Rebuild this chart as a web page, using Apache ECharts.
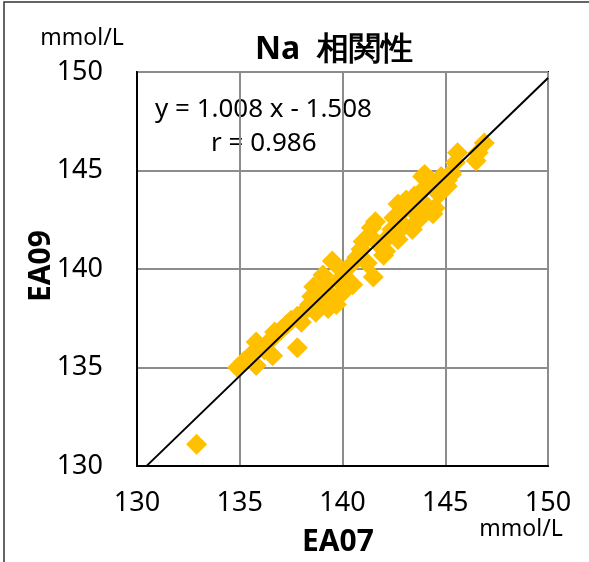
<!DOCTYPE html>
<html><head><meta charset="utf-8">
<script src="https://cdn.jsdelivr.net/npm/echarts@6/dist/echarts.min.js"></script>
<style>html,body{margin:0;padding:0;background:#fff}#c{width:589px;height:562px}</style>
</head><body><div id="c"></div>
<script>
const xTicks = [130, 135, 140, 145, 150];
const yTicks = [130, 135, 140, 145, 150];
const ea07 = [132.9,134.9,135.2,135.5,135.8,135.8,136.0,136.2,136.5,136.6,136.7,137.0,137.3,137.5,137.8,137.8,138.0,138.2,138.4,138.5,138.6,138.7,138.9,139.0,139.05,139.2,139.3,139.5,139.5,139.7,139.8,140.0,140.0,140.2,140.4,140.5,140.7,140.9,141.0,141.2,141.3,141.5,141.4,141.6,141.8,142.0,142.1,142.2,142.4,142.5,142.7,142.7,142.9,143.0,143.1,143.3,143.4,143.5,143.6,143.7,143.8,143.9,144.0,144.0,144.1,144.2,144.3,144.4,144.5,144.6,144.7,144.8,145.0,145.1,145.1,145.3,145.3,145.5,145.6,146.5,146.6,146.9];
const ea09 = [131.1,135.0,135.3,135.6,135.1,136.3,136.0,135.9,136.4,135.6,136.8,136.9,137.2,137.4,136.0,137.6,137.3,137.9,138.2,138.6,139.1,137.8,138.3,138.8,139.7,139.2,138.0,140.4,138.6,138.2,139.4,138.8,139.9,139.5,140.2,139.2,140.6,141.0,141.4,140.3,141.7,139.6,142.1,142.4,141.2,140.7,140.9,141.6,142.0,142.6,141.5,143.3,142.9,142.2,143.5,143.1,142.0,143.7,142.8,142.5,143.9,144.7,143.3,144.8,144.2,143.0,144.5,142.8,143.1,144.1,143.8,144.7,144.3,144.5,144.2,144.8,144.9,145.4,145.9,145.5,145.9,146.4];
const slope = 1.008, intercept = -1.508, r = 0.986;
const fitX = [130.47, 150];

const pts = ea07.map((x, i) => [x, ea09[i]]);
const fit = fitX.map(x => [x, slope * x + intercept]);
const F = '"Noto Sans", sans-serif';

const chart = echarts.init(document.getElementById('c'));
chart.setOption({
  animation: false,
  grid: {left: 137, right: 41, top: 72, bottom: 96, show: true, borderColor: '#000', borderWidth: 2},
  xAxis: {type: 'value', min: xTicks[0], max: xTicks[xTicks.length-1], interval: 5,
    axisLine: {lineStyle: {color: '#000', width: 2}},
    axisTick: {show: false},
    splitLine: {lineStyle: {color: '#8c8c8c', width: 2}},
    axisLabel: {color: '#000', fontSize: 27, fontFamily: F, margin: 24}},
  yAxis: {type: 'value', min: yTicks[0], max: yTicks[yTicks.length-1], interval: 5,
    axisLine: {lineStyle: {color: '#000', width: 2}},
    axisTick: {show: false},
    splitLine: {lineStyle: {color: '#8c8c8c', width: 2}},
    axisLabel: {color: '#000', fontSize: 27, fontFamily: F, margin: 34}},
  series: [
    {type: 'scatter', data: pts, symbol: 'diamond', symbolSize: 21, itemStyle: {color: '#FFC000', opacity: 1}, z: 2},
    {type: 'line', data: fit, symbol: 'none', lineStyle: {color: '#000', width: 2}, z: 3}
  ],
  graphic: [
    {type: 'rect', shape: {x: 4, y: 2, width: 800, height: 800}, style: {fill: 'none', stroke: '#333', lineWidth: 1.5}, silent: true},
    {type: 'text', x: 334, y: 50, style: {text: 'Na  相関性', font: 'bold 32px ' + F, fill: '#000', textAlign: 'center', textVerticalAlign: 'middle'}},
    {type: 'text', x: 82, y: 38, style: {text: 'mmol/L', font: '23px ' + F, fill: '#000', textAlign: 'center', textVerticalAlign: 'middle'}},
    {type: 'text', x: 521, y: 529, style: {text: 'mmol/L', font: '23px ' + F, fill: '#000', textAlign: 'center', textVerticalAlign: 'middle'}},
    {type: 'text', x: 338, y: 542, style: {text: 'EA07', font: 'bold 30px ' + F, fill: '#000', textAlign: 'center', textVerticalAlign: 'middle'}},
    {type: 'text', x: 41, y: 266, rotation: Math.PI/2, style: {text: 'EA09', font: 'bold 30px ' + F, fill: '#000', textAlign: 'center', textVerticalAlign: 'middle'}},
    {type: 'text', x: 155, y: 110, style: {text: 'y = ' + slope.toFixed(3) + ' x - ' + Math.abs(intercept).toFixed(3), font: '26px ' + F, fill: '#000', textAlign: 'left', textVerticalAlign: 'middle'}},
    {type: 'text', x: 211, y: 144, style: {text: 'r = ' + r.toFixed(3), font: '26px ' + F, fill: '#000', textAlign: 'left', textVerticalAlign: 'middle'}}
  ]
});
</script></body></html>
